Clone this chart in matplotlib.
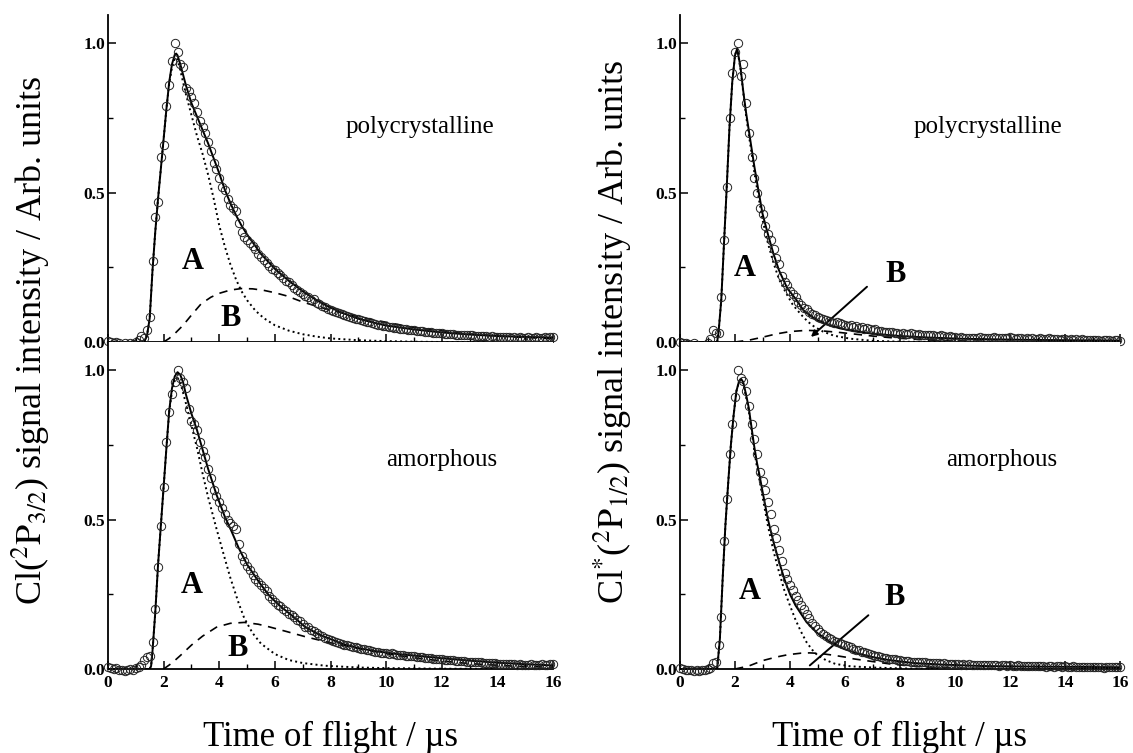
import numpy as np
import matplotlib
matplotlib.use("Agg")
import matplotlib.pyplot as plt
from matplotlib.ticker import MultipleLocator, FormatStrFormatter

plt.rcParams['font.family'] = 'serif'
plt.rcParams['font.serif'] = ['Liberation Serif', 'DejaVu Serif']
plt.rcParams['mathtext.fontset'] = 'stix'

# time base of the recorded TOF spectra (us)
t_data = np.linspace(0, 16, 161)

# ---- Cl(2P3/2), polycrystalline ----
lt_data = [0.005, 0.0, -0.005, 0.0, -0.005, -0.01, -0.005, -0.01, -0.005, -0.008,
           0.0, 0.008, 0.02, 0.015, 0.04, 0.085, 0.27, 0.42, 0.47, 0.62,
           0.66, 0.79, 0.86, 0.94, 1.0, 0.97, 0.93, 0.92, 0.85, 0.84,
           0.82, 0.80, 0.77, 0.74, 0.72, 0.70, 0.67, 0.64, 0.60, 0.58,
           0.55, 0.52, 0.51, 0.48, 0.46, 0.45, 0.44, 0.40, 0.37, 0.35,
           0.34, 0.33, 0.32, 0.31, 0.295, 0.285, 0.275, 0.265, 0.255, 0.245,
           0.24, 0.23, 0.225, 0.215, 0.205, 0.2, 0.19, 0.182, 0.175, 0.168,
           0.16, 0.155, 0.15, 0.14, 0.145, 0.132, 0.128, 0.12, 0.118, 0.112,
           0.108, 0.104, 0.1, 0.097, 0.093, 0.09, 0.087, 0.084, 0.08, 0.078,
           0.076, 0.074, 0.07, 0.068, 0.066, 0.063, 0.06, 0.058, 0.056, 0.054,
           0.052, 0.05, 0.05, 0.047, 0.046, 0.045, 0.043, 0.042, 0.04, 0.04,
           0.039, 0.037, 0.036, 0.036, 0.034, 0.033, 0.033, 0.031, 0.03, 0.03,
           0.029, 0.028, 0.028, 0.026, 0.026, 0.025, 0.024, 0.024, 0.023, 0.023,
           0.022, 0.022, 0.021, 0.02, 0.02, 0.019, 0.02, 0.018, 0.019, 0.018,
           0.017, 0.018, 0.016, 0.017, 0.016, 0.015, 0.017, 0.015, 0.016, 0.015,
           0.014, 0.016, 0.015, 0.014, 0.016, 0.015, 0.014, 0.016, 0.015, 0.017,
           0.018]
lt_fit_t = [0, 1.3, 1.4, 1.5, 1.6, 1.7, 1.8, 1.9, 2.0, 2.1, 2.2, 2.3, 2.4, 2.45, 2.5, 2.6,
            2.7, 2.8, 2.9, 3.0, 3.2, 3.4, 3.6, 3.8, 4.0, 4.2, 4.4, 4.6, 4.8, 5.0, 5.5, 6.0,
            6.5, 7.0, 7.5, 8.0, 8.5, 9.0, 9.5, 10, 11, 12, 13, 14, 15, 16]
lt_fit_y = [0, 0, 0.02, 0.08, 0.24, 0.37, 0.48, 0.58, 0.68, 0.78, 0.87, 0.93, 0.962, 0.966,
            0.96, 0.93, 0.895, 0.86, 0.83, 0.80, 0.755, 0.71, 0.665, 0.615, 0.565, 0.51,
            0.465, 0.425, 0.39, 0.36, 0.295, 0.245, 0.205, 0.17, 0.14, 0.115, 0.095, 0.078,
            0.066, 0.055, 0.042, 0.032, 0.025, 0.02, 0.017, 0.015]
lt_a_t = [1.3, 1.4, 1.5, 1.6, 1.7, 1.8, 1.9, 2.0, 2.1, 2.2, 2.3, 2.4, 2.45, 2.5, 2.6, 2.8,
          3.0, 3.2, 3.4, 3.6, 3.8, 4.0, 4.2, 4.4, 4.6, 4.8, 5.0, 5.3, 5.6, 6.0, 6.5, 7.0,
          7.5, 8.0, 9.0, 10, 11, 12, 14, 16]
lt_a_y = [0, 0.02, 0.08, 0.24, 0.37, 0.48, 0.58, 0.68, 0.78, 0.865, 0.92, 0.95, 0.952, 0.945,
          0.91, 0.83, 0.76, 0.69, 0.63, 0.56, 0.48, 0.39, 0.32, 0.26, 0.21, 0.17, 0.14,
          0.105, 0.08, 0.056, 0.038, 0.026, 0.018, 0.012, 0.006, 0.003, 0.001, 0, 0, 0]
lt_b_t = [2.0, 2.2, 2.4, 2.7, 3.0, 3.35, 3.7, 4.0, 4.4, 4.8, 5.2, 5.6, 6.0, 6.4, 7.0, 7.6,
          8.3, 9.0, 9.6, 10.3, 10.9, 12, 12.8, 14, 15, 16]
lt_b_y = [0.0, 0.012, 0.028, 0.056, 0.09, 0.128, 0.15, 0.163, 0.174, 0.179, 0.178, 0.173,
          0.165, 0.155, 0.134, 0.117, 0.1, 0.085, 0.073, 0.061, 0.05, 0.038, 0.028, 0.02,
          0.015, 0.011]

# ---- Cl(2P3/2), amorphous ----
lb_data = [0.008, 0.005, 0.0, 0.003, -0.005, -0.003, -0.008, -0.005, 0.0, -0.005,
           0.002, 0.008, 0.015, 0.03, 0.04, 0.045, 0.09, 0.2, 0.34, 0.48,
           0.61, 0.76, 0.86, 0.92, 0.96, 1.0, 0.975, 0.96, 0.94, 0.87,
           0.83, 0.82, 0.80, 0.76, 0.73, 0.71, 0.67, 0.64, 0.60, 0.58,
           0.56, 0.54, 0.52, 0.50, 0.49, 0.48, 0.47, 0.42, 0.38, 0.36,
           0.345, 0.33, 0.315, 0.3, 0.29, 0.28, 0.27, 0.26, 0.245, 0.235,
           0.225, 0.215, 0.21, 0.2, 0.195, 0.185, 0.18, 0.175, 0.165, 0.16,
           0.15, 0.14, 0.14, 0.13, 0.127, 0.12, 0.115, 0.11, 0.105, 0.1,
           0.098, 0.094, 0.09, 0.088, 0.085, 0.082, 0.08, 0.077, 0.075, 0.073,
           0.07, 0.068, 0.066, 0.064, 0.062, 0.06, 0.058, 0.057, 0.055, 0.054,
           0.052, 0.05, 0.052, 0.049, 0.048, 0.047, 0.046, 0.045, 0.044, 0.043,
           0.042, 0.041, 0.04, 0.039, 0.038, 0.037, 0.036, 0.035, 0.034, 0.033,
           0.032, 0.031, 0.03, 0.03, 0.029, 0.028, 0.027, 0.026, 0.026, 0.025,
           0.024, 0.024, 0.023, 0.022, 0.022, 0.021, 0.02, 0.02, 0.019, 0.019,
           0.018, 0.018, 0.017, 0.017, 0.016, 0.017, 0.016, 0.015, 0.016, 0.015,
           0.015, 0.014, 0.016, 0.015, 0.014, 0.015, 0.016, 0.014, 0.015, 0.016,
           0.017]
lb_fit_t = [0, 1.5, 1.55, 1.6, 1.7, 1.8, 1.9, 2.0, 2.1, 2.2, 2.3, 2.4, 2.5, 2.6, 2.7, 2.8,
            3.0, 3.2, 3.4, 3.6, 3.9, 4.2, 4.4, 4.7, 5.0, 5.4, 5.8, 6.2, 6.6, 7.1, 7.6, 8.4,
            9.0, 9.6, 10.4, 11, 12, 13, 14, 15, 16]
lb_fit_y = [0, 0, 0.01, 0.06, 0.19, 0.35, 0.48, 0.61, 0.74, 0.865, 0.94, 0.98, 0.994, 0.985,
            0.96, 0.92, 0.855, 0.8, 0.735, 0.67, 0.584, 0.51, 0.47, 0.405, 0.35, 0.295,
            0.245, 0.21, 0.18, 0.14, 0.115, 0.085, 0.07, 0.06, 0.05, 0.045, 0.036, 0.028,
            0.021, 0.016, 0.012]
lb_a_t = [1.5, 1.55, 1.6, 1.7, 1.8, 1.9, 2.0, 2.1, 2.2, 2.3, 2.4, 2.5, 2.6, 2.8, 3.0, 3.2,
          3.4, 3.6, 3.9, 4.2, 4.4, 4.7, 4.9, 5.2, 5.5, 6.0, 6.5, 7.0, 7.8, 9.0, 10, 12, 16]
lb_a_y = [0, 0.01, 0.06, 0.19, 0.35, 0.48, 0.61, 0.74, 0.86, 0.93, 0.965, 0.975, 0.96, 0.89,
          0.815, 0.74, 0.655, 0.575, 0.47, 0.37, 0.305, 0.22, 0.17, 0.12, 0.085, 0.05,
          0.03, 0.02, 0.011, 0.005, 0.003, 0.001, 0]
lb_b_t = [2.0, 2.3, 2.6, 3.0, 3.4, 3.9, 4.4, 4.9, 5.4, 5.8, 6.4, 7.1, 7.8, 8.4, 9.2, 10.4,
          11.5, 13.0, 14.5, 16]
lb_b_y = [0.0, 0.02, 0.045, 0.08, 0.11, 0.14, 0.153, 0.156, 0.15, 0.141, 0.126, 0.108,
          0.092, 0.08, 0.065, 0.045, 0.032, 0.018, 0.01, 0.006]

# ---- Cl*(2P1/2), polycrystalline ----
rt_data = [0.0, -0.005, -0.003, -0.008, -0.01, -0.005, -0.012, -0.015, -0.02, -0.012,
           -0.005, 0.01, 0.04, 0.03, 0.03, 0.15, 0.34, 0.52, 0.75, 0.9,
           0.97, 1.0, 0.89, 0.93, 0.80, 0.70, 0.62, 0.55, 0.50, 0.45,
           0.43, 0.39, 0.36, 0.34, 0.31, 0.28, 0.26, 0.22, 0.2, 0.19,
           0.17, 0.16, 0.15, 0.135, 0.125, 0.115, 0.11, 0.1, 0.095, 0.09,
           0.085, 0.08, 0.078, 0.075, 0.07, 0.068, 0.065, 0.068, 0.062, 0.06,
           0.058, 0.055, 0.056, 0.05, 0.052, 0.048, 0.05, 0.045, 0.046, 0.044,
           0.04, 0.042, 0.038, 0.036, 0.035, 0.034, 0.032, 0.033, 0.03, 0.03,
           0.028, 0.029, 0.027, 0.028, 0.03, 0.026, 0.025, 0.027, 0.024, 0.025,
           0.023, 0.022, 0.024, 0.021, 0.02, 0.022, 0.019, 0.018, 0.02, 0.017,
           0.016, 0.015, 0.017, 0.012, 0.014, 0.013, 0.015, 0.012, 0.014, 0.016,
           0.013, 0.015, 0.014, 0.012, 0.016, 0.014, 0.013, 0.015, 0.014, 0.012,
           0.016, 0.014, 0.011, 0.013, 0.012, 0.01, 0.012, 0.011, 0.013, 0.01,
           0.011, 0.012, 0.009, 0.01, 0.012, 0.011, 0.009, 0.01, 0.008, 0.011,
           0.01, 0.008, 0.009, 0.007, 0.01, 0.008, 0.009, 0.006, 0.008, 0.007,
           0.006, 0.008, 0.007, 0.005, 0.008, 0.006, 0.007, 0.005, 0.006, 0.007,
           0.005]
rt_fit_t = [0, 1.35, 1.4, 1.5, 1.6, 1.7, 1.8, 1.9, 2.0, 2.08, 2.2, 2.3, 2.4, 2.5, 2.6, 2.7,
            2.8, 3.0, 3.2, 3.4, 3.6, 3.9, 4.2, 4.5, 4.9, 5.3, 5.8, 6.4, 7.0, 8.0, 9.0, 10.2,
            12, 14, 16]
rt_fit_y = [0, 0, 0.03, 0.14, 0.33, 0.52, 0.72, 0.87, 0.96, 0.983, 0.92, 0.84, 0.77, 0.71,
            0.65, 0.59, 0.535, 0.43, 0.36, 0.295, 0.24, 0.18, 0.145, 0.105, 0.078, 0.06,
            0.046, 0.035, 0.028, 0.02, 0.015, 0.011, 0.008, 0.006, 0.005]
rt_a_t = [1.35, 1.4, 1.5, 1.6, 1.7, 1.8, 1.9, 2.0, 2.08, 2.2, 2.3, 2.4, 2.5, 2.6, 2.7, 2.8,
          3.0, 3.2, 3.4, 3.6, 3.85, 4.1, 4.4, 4.65, 4.9, 5.2, 5.6, 6.2, 7.0, 8.0, 10, 16]
rt_a_y = [0, 0.03, 0.14, 0.33, 0.52, 0.72, 0.87, 0.96, 0.983, 0.915, 0.835, 0.76, 0.695,
          0.635, 0.57, 0.515, 0.41, 0.33, 0.265, 0.21, 0.165, 0.125, 0.092, 0.068, 0.05,
          0.035, 0.021, 0.011, 0.004, 0.001, 0, 0]
rt_b_t = [2.0, 2.5, 3.0, 3.5, 4.0, 4.6, 5.2, 5.8, 6.4, 7.0, 7.6, 8.4, 9.0, 10, 12, 16]
rt_b_y = [0, 0.006, 0.016, 0.027, 0.035, 0.039, 0.037, 0.032, 0.026, 0.02, 0.015, 0.01,
          0.007, 0.004, 0.001, 0]

# ---- Cl*(2P1/2), amorphous ----
rb_data = [0.003, 0.0, -0.003, -0.005, -0.003, -0.006, -0.004, -0.006, -0.005, -0.003,
           0.0, 0.005, 0.02, 0.025, 0.08, 0.174, 0.43, 0.57, 0.72, 0.82,
           0.91, 1.0, 0.975, 0.965, 0.93, 0.88, 0.82, 0.77, 0.72, 0.66,
           0.63, 0.6, 0.56, 0.52, 0.47, 0.44, 0.40, 0.36, 0.32, 0.30,
           0.28, 0.265, 0.245, 0.23, 0.215, 0.2, 0.185, 0.17, 0.155, 0.145,
           0.135, 0.125, 0.118, 0.11, 0.105, 0.1, 0.095, 0.09, 0.088, 0.083,
           0.08, 0.076, 0.072, 0.068, 0.065, 0.062, 0.058, 0.056, 0.054, 0.05,
           0.046, 0.045, 0.042, 0.04, 0.038, 0.036, 0.035, 0.033, 0.032, 0.03,
           0.029, 0.028, 0.027, 0.026, 0.025, 0.024, 0.023, 0.023, 0.022, 0.022,
           0.021, 0.02, 0.021, 0.019, 0.02, 0.018, 0.019, 0.017, 0.018, 0.017,
           0.016, 0.017, 0.015, 0.016, 0.014, 0.016, 0.015, 0.013, 0.015, 0.014,
           0.013, 0.014, 0.012, 0.013, 0.014, 0.012, 0.011, 0.013, 0.012, 0.011,
           0.012, 0.01, 0.011, 0.012, 0.01, 0.011, 0.009, 0.011, 0.01, 0.009,
           0.01, 0.009, 0.011, 0.008, 0.01, 0.009, 0.008, 0.01, 0.009, 0.008,
           0.009, 0.007, 0.008, 0.009, 0.007, 0.008, 0.006, 0.008, 0.007, 0.006,
           0.007, 0.008, 0.006, 0.007, 0.005, 0.007, 0.006, 0.008, 0.006, 0.007,
           0.006]
rb_fit_t = [0, 1.35, 1.45, 1.55, 1.65, 1.75, 1.85, 1.95, 2.05, 2.15, 2.22, 2.3, 2.4, 2.5,
            2.6, 2.7, 2.8, 2.9, 3.0, 3.2, 3.4, 3.6, 3.8, 4.0, 4.2, 4.6, 5.0, 5.5, 6.0, 6.5,
            7.0, 7.6, 8.5, 9.5, 11, 13, 16]
rb_fit_y = [0, 0, 0.1, 0.3, 0.48, 0.62, 0.75, 0.85, 0.93, 0.965, 0.972, 0.96, 0.92, 0.875,
            0.81, 0.745, 0.69, 0.645, 0.595, 0.5, 0.425, 0.36, 0.3, 0.25, 0.213, 0.157,
            0.12, 0.088, 0.066, 0.051, 0.04, 0.03, 0.02, 0.015, 0.01, 0.008, 0.006]
rb_a_t = [1.35, 1.45, 1.55, 1.65, 1.75, 1.85, 1.95, 2.05, 2.15, 2.22, 2.3, 2.4, 2.5, 2.6,
          2.7, 2.8, 2.9, 3.0, 3.2, 3.4, 3.6, 3.8, 4.0, 4.2, 4.4, 4.6, 4.8, 5.0, 5.3, 5.65,
          6.2, 7.0, 8.0, 10, 16]
rb_a_y = [0, 0.1, 0.3, 0.48, 0.62, 0.75, 0.85, 0.93, 0.963, 0.968, 0.955, 0.912, 0.865, 0.8,
          0.732, 0.675, 0.628, 0.577, 0.478, 0.395, 0.325, 0.262, 0.212, 0.165, 0.125,
          0.09, 0.065, 0.046, 0.03, 0.017, 0.009, 0.005, 0.002, 0, 0]
rb_b_t = [2.0, 2.5, 3.0, 3.5, 3.93, 4.4, 4.72, 5.1, 5.51, 6.0, 6.31, 7.0, 7.63, 8.3, 8.94,
          10, 12, 16]
rb_b_y = [0, 0.01, 0.028, 0.04, 0.048, 0.053, 0.054, 0.052, 0.047, 0.04, 0.034, 0.025,
          0.017, 0.011, 0.006, 0.003, 0.001, 0]

panel_names = ['polycrystalline', 'amorphous']
ylabel_left = r'Cl($^{2}\mathrm{P}_{3/2}$) signal intensity / Arb. units'
ylabel_right = r'Cl$^{*}$($^{2}\mathrm{P}_{1/2}$) signal intensity / Arb. units'
xlabel = 'Time of flight / \u00b5s'

fig = plt.figure(figsize=(11.33, 7.53), dpi=100)

W, H = 1133.0, 753.0
col_x = [108 / W, 680 / W]
col_w = [445 / W, 440 / W]
row_y = [1 - 342 / H, 1 - 669 / H]
row_h = 327 / H


def draw_panel(ax, data, fit_t, fit_y, a_t, a_y, b_t, b_y, show_xlabels):
    ax.plot(fit_t, fit_y, '-', color='black', lw=1.4, zorder=3)
    ax.plot(a_t, a_y, ':', color='black', lw=1.4, zorder=3)
    ax.plot(b_t, b_y, '--', color='black', lw=1.2, dashes=(5, 4), zorder=3)
    ax.plot(t_data, data, 'o', mfc='none', mec='#222222', ms=6, mew=0.7,
            clip_on=False, zorder=4)
    ax.set_xlim(0, 16)
    ax.set_ylim(0, 1.095)
    ax.spines['top'].set_visible(False)
    ax.spines['right'].set_visible(False)
    ax.spines['left'].set_linewidth(1.3)
    ax.spines['bottom'].set_linewidth(1.3)
    ax.xaxis.set_major_locator(MultipleLocator(2))
    ax.xaxis.set_minor_locator(MultipleLocator(1))
    ax.yaxis.set_major_locator(MultipleLocator(0.5))
    ax.yaxis.set_minor_locator(MultipleLocator(0.25))
    ax.yaxis.set_major_formatter(FormatStrFormatter('%.1f'))
    ax.tick_params(which='major', direction='in', length=6, width=1.1,
                   labelsize=12.5, pad=4, top=False, right=False)
    ax.tick_params(which='minor', direction='in', length=3.5, width=1.0,
                   top=False, right=False)
    ax.tick_params(axis='y', pad=2)
    ax.tick_params(axis='x', labelbottom=show_xlabels)
    for lab in ax.get_xticklabels() + ax.get_yticklabels():
        lab.set_fontweight('bold')


lt = fig.add_axes([col_x[0], row_y[0], col_w[0], row_h])
draw_panel(lt, lt_data, lt_fit_t, lt_fit_y, lt_a_t, lt_a_y, lt_b_t, lt_b_y, False)
lt.text(3.05, 0.27, 'A', fontsize=22, fontweight='bold', ha='center', va='center')
lt.text(4.4, 0.08, 'B', fontsize=22, fontweight='bold', ha='center', va='center')
lt.text(11.2, 0.72, panel_names[0], fontsize=18, ha='center', va='center')

lb = fig.add_axes([col_x[0], row_y[1], col_w[0], row_h])
draw_panel(lb, lb_data, lb_fit_t, lb_fit_y, lb_a_t, lb_a_y, lb_b_t, lb_b_y, True)
lb.text(3.0, 0.28, 'A', fontsize=22, fontweight='bold', ha='center', va='center')
lb.text(4.65, 0.07, 'B', fontsize=22, fontweight='bold', ha='center', va='center')
lb.text(12.0, 0.70, panel_names[1], fontsize=18, ha='center', va='center')

rt = fig.add_axes([col_x[1], row_y[0], col_w[1], row_h])
draw_panel(rt, rt_data, rt_fit_t, rt_fit_y, rt_a_t, rt_a_y, rt_b_t, rt_b_y, False)
rt.text(2.35, 0.245, 'A', fontsize=22, fontweight='bold', ha='center', va='center')
rt.text(7.85, 0.225, 'B', fontsize=22, fontweight='bold', ha='center', va='center')
rt.annotate('', xy=(4.76, 0.017), xytext=(6.8, 0.185),
            arrowprops=dict(arrowstyle='-|>', color='black', lw=1.4,
                            mutation_scale=9, shrinkA=0, shrinkB=0))
rt.text(11.2, 0.72, panel_names[0], fontsize=18, ha='center', va='center')

rb = fig.add_axes([col_x[1], row_y[1], col_w[1], row_h])
draw_panel(rb, rb_data, rb_fit_t, rb_fit_y, rb_a_t, rb_a_y, rb_b_t, rb_b_y, True)
rb.text(2.55, 0.26, 'A', fontsize=22, fontweight='bold', ha='center', va='center')
rb.text(7.8, 0.24, 'B', fontsize=22, fontweight='bold', ha='center', va='center')
rb.annotate('', xy=(4.72, 0.012), xytext=(6.85, 0.18),
            arrowprops=dict(arrowstyle='-', color='black', lw=1.4,
                            shrinkA=0, shrinkB=0))
rb.text(11.7, 0.70, panel_names[1], fontsize=18, ha='center', va='center')

fig.text(31 / W, 1 - 340 / H, ylabel_left, rotation=90, fontsize=26,
         ha='center', va='center')
fig.text(613 / W, 1 - 332 / H, ylabel_right, rotation=90, fontsize=26,
         ha='center', va='center')
fig.text((108 + 553) / 2 / W, 1 - 737 / H, xlabel, fontsize=25,
         ha='center', va='center')
fig.text((680 + 1120) / 2 / W, 1 - 737 / H, xlabel, fontsize=25,
         ha='center', va='center')

fig.savefig('out.png', dpi=100)
